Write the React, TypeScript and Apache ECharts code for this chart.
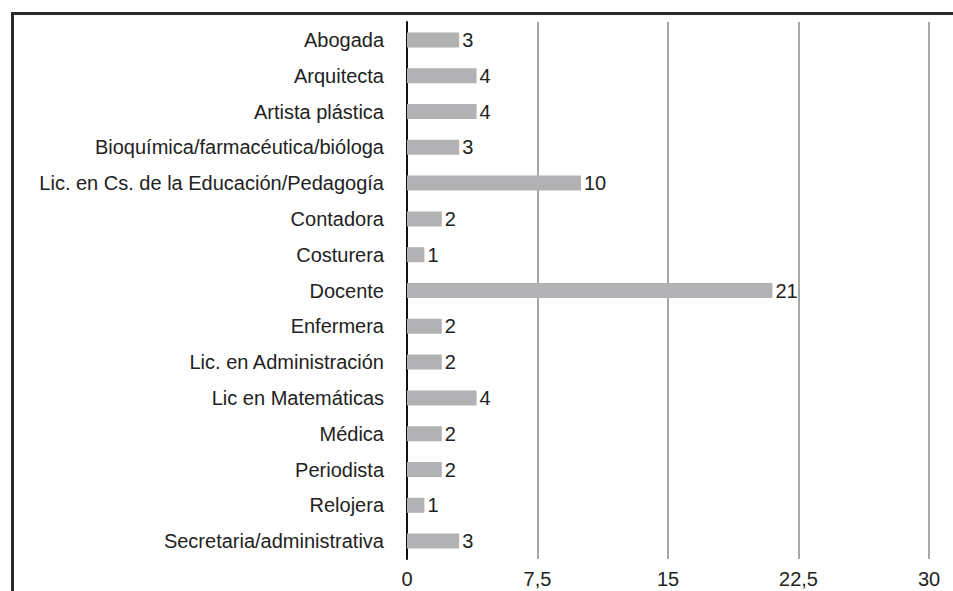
import React, { useEffect, useRef } from "react";
import * as echarts from "echarts";

const categories = [
  "Abogada",
  "Arquitecta",
  "Artista plástica",
  "Bioquímica/farmacéutica/bióloga",
  "Lic. en Cs. de la Educación/Pedagogía",
  "Contadora",
  "Costurera",
  "Docente",
  "Enfermera",
  "Lic. en Administración",
  "Lic en Matemáticas",
  "Médica",
  "Periodista",
  "Relojera",
  "Secretaria/administrativa",
];
const values = [3, 4, 4, 3, 10, 2, 1, 21, 2, 2, 4, 2, 2, 1, 3];
const tickMin = 0;
const tickMax = 30;
const tickInterval = 7.5;

export default function App() {
  const ref = useRef<HTMLDivElement>(null);
  useEffect(() => {
    if (!ref.current) return;
    const chart = echarts.init(ref.current, null, { renderer: "svg" });
    const font = "'Liberation Sans', Arial, sans-serif";
    chart.setOption({
      animation: false,
      backgroundColor: "#ffffff",
      grid: { left: 407, right: 24, top: 22, bottom: 32, containLabel: false },
      graphic: [
        {
          type: "rect",
          shape: { x: 12.5, y: 13.5, width: 1100, height: 1100 },
          style: { fill: "none", stroke: "#2b2b2b", lineWidth: 3 },
          silent: true,
        },
      ],
      xAxis: {
        type: "value",
        min: tickMin,
        max: tickMax,
        interval: tickInterval,
        axisLine: { show: false },
        axisTick: { show: false },
        splitLine: { show: true, lineStyle: { color: "#a8a8a8", width: 2 } },
        axisLabel: {
          color: "#222",
          fontSize: 20,
          fontFamily: font,
          margin: 10,
          formatter: (v: number) => String(v).replace(".", ","),
        },
      },
      yAxis: {
        type: "category",
        data: categories,
        inverse: true,
        axisLine: { show: true, lineStyle: { color: "#111", width: 2 } },
        axisTick: { show: false },
        axisLabel: { color: "#222", fontSize: 20, fontFamily: font, margin: 23 },
      },
      series: [
        {
          type: "bar",
          data: values,
          barWidth: 15,
          itemStyle: { color: "#b2b2b4" },
          label: {
            show: true,
            position: "right",
            distance: 3,
            color: "#222",
            fontSize: 20,
            fontFamily: font,
          },
          z: 3,
        },
      ],
    });
    return () => chart.dispose();
  }, []);
  return (
    <div
      ref={ref}
      style={{ position: "fixed", left: 0, top: 0, width: 953, height: 591, background: "#fff" }}
    />
  );
}
